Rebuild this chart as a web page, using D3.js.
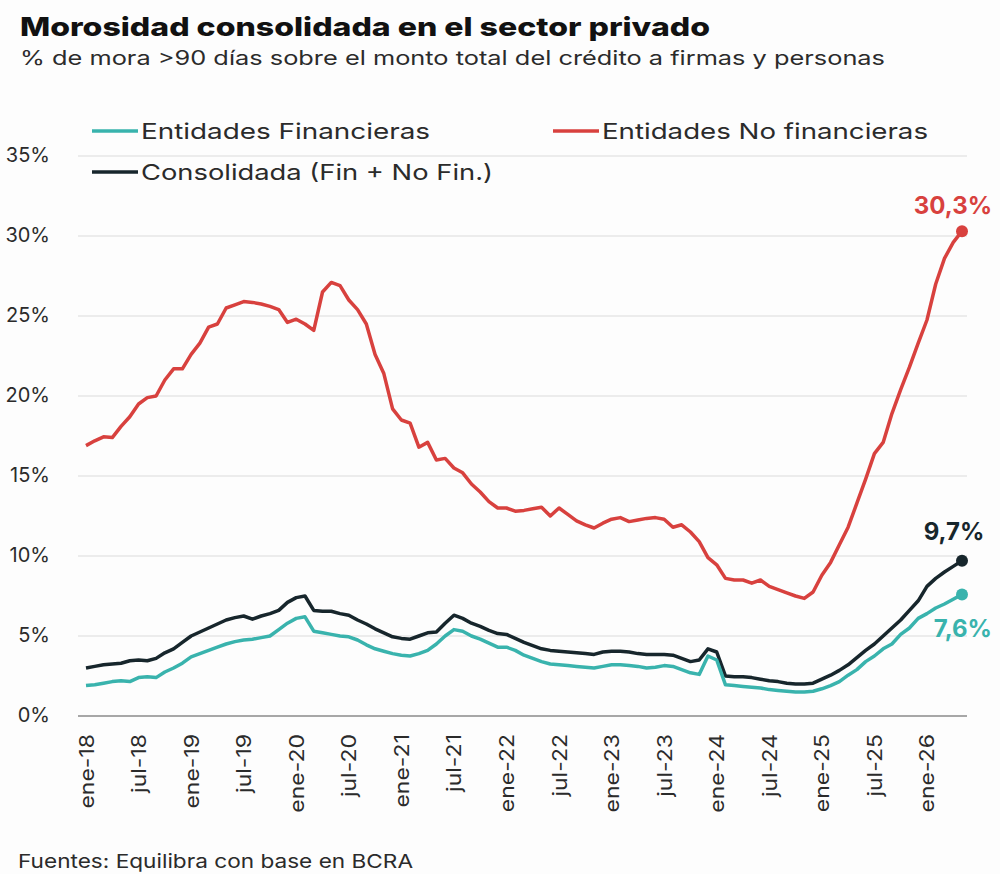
<!DOCTYPE html>
<html>
<head>
<meta charset="utf-8">
<script src="https://cdn.jsdelivr.net/npm/d3@7"></script>
<style>
  body { margin: 0; background: #fdfdfd; }
  svg { display: block; font-family: Inter, "Open Sans", sans-serif; }
</style>
</head>
<body>
<svg id="chart" width="1000" height="874"></svg>
<script>
const monthNames = ['ene', 'feb', 'mar', 'abr', 'may', 'jun', 'jul', 'ago', 'sep', 'oct', 'nov', 'dic'];
const years = ['18', '19', '20', '21', '22', '23', '24', '25', '26'];

// ene-18 .. may-26, one label per month
const months = [];
years.forEach(y => monthNames.forEach(m => months.push(m + '-' + y)));
months.length = 101;

const tickLabels = ['ene-18', 'jul-18', 'ene-19', 'jul-19', 'ene-20', 'jul-20', 'ene-21', 'jul-21',
  'ene-22', 'jul-22', 'ene-23', 'jul-23', 'ene-24', 'jul-24', 'ene-25', 'jul-25', 'ene-26'];

const yTicks = [0, 5, 10, 15, 20, 25, 30, 35];

const noFinancieras = [
  16.9, 17.2, 17.45, 17.4, 18.1, 18.7, 19.5, 19.9, 20.0, 21.0, 21.7, 21.7,
  22.6, 23.3, 24.3, 24.5, 25.5, 25.7, 25.9, 25.85, 25.75, 25.6, 25.4, 24.6,
  24.8, 24.5, 24.1, 26.5, 27.1, 26.9, 26.0, 25.4, 24.5, 22.6, 21.4, 19.2,
  18.5, 18.3, 16.8, 17.1, 16.0, 16.1, 15.5, 15.2, 14.5, 14.0, 13.4, 13.0,
  13.0, 12.8, 12.85, 12.95, 13.05, 12.5, 13.0, 12.6, 12.2, 11.95, 11.75, 12.05,
  12.3, 12.4, 12.15, 12.25, 12.35, 12.4, 12.3, 11.8, 11.95, 11.5, 10.9, 9.9,
  9.45, 8.6, 8.5, 8.5, 8.3, 8.5, 8.1, 7.9, 7.7, 7.5, 7.35, 7.75,
  8.8, 9.6, 10.7, 11.8, 13.3, 14.8, 16.4, 17.1, 18.9, 20.4, 21.8, 23.3,
  24.75, 27.0, 28.6, 29.6, 30.3
];

const financieras = [
  1.9, 1.95, 2.05, 2.15, 2.2, 2.15, 2.4, 2.45, 2.4, 2.75, 3.0, 3.3,
  3.7, 3.9, 4.1, 4.3, 4.5, 4.65, 4.75, 4.8, 4.9, 5.0, 5.4, 5.8,
  6.1, 6.2, 5.3, 5.2, 5.1, 5.0, 4.95, 4.75, 4.45, 4.2, 4.05, 3.9,
  3.8, 3.75, 3.9, 4.1, 4.5, 5.0, 5.4, 5.3, 5.0, 4.8, 4.55, 4.3,
  4.3, 4.1, 3.8, 3.6, 3.4, 3.25, 3.2, 3.15, 3.1, 3.05, 3.0, 3.1,
  3.2, 3.2, 3.15, 3.1, 3.0, 3.05, 3.15, 3.1, 2.9, 2.7, 2.6, 3.75,
  3.5, 1.95, 1.9, 1.85, 1.8, 1.75, 1.65, 1.6, 1.55, 1.5, 1.5, 1.55,
  1.7, 1.9, 2.15, 2.55, 2.9, 3.4, 3.75, 4.2, 4.5, 5.1, 5.5, 6.1,
  6.4, 6.75, 7.0, 7.3, 7.6
];

const consolidada = [
  3.0, 3.1, 3.2, 3.25, 3.3, 3.45, 3.5, 3.45, 3.6, 3.95, 4.2, 4.6,
  5.0, 5.25, 5.5, 5.75, 6.0, 6.15, 6.25, 6.05, 6.25, 6.4, 6.6, 7.1,
  7.4, 7.5, 6.6, 6.55, 6.55, 6.4, 6.3, 6.0, 5.75, 5.45, 5.2, 4.95,
  4.85, 4.8, 5.0, 5.2, 5.25, 5.8, 6.3, 6.1, 5.8, 5.6, 5.35, 5.15,
  5.1, 4.85, 4.6, 4.4, 4.2, 4.1, 4.05, 4.0, 3.95, 3.9, 3.85, 4.0,
  4.05, 4.05, 4.0, 3.9, 3.85, 3.85, 3.85, 3.8, 3.6, 3.4, 3.5, 4.2,
  4.0, 2.5, 2.45, 2.45, 2.4, 2.3, 2.2, 2.15, 2.05, 2.0, 2.0, 2.05,
  2.3, 2.55, 2.85, 3.2, 3.65, 4.1, 4.5, 5.0, 5.5, 6.0, 6.6, 7.2,
  8.1, 8.6, 9.0, 9.35, 9.7
];

const series = [
  { name: 'Entidades No financieras', values: noFinancieras, color: '#d8413e', label: '30,3%' },
  { name: 'Consolidada (Fin + No Fin.)', values: consolidada, color: '#17262c', label: '9,7%' },
  { name: 'Entidades Financieras', values: financieras, color: '#39b3ad', label: '7,6%' }
];

const svg = d3.select('#chart');
const textColor = '#2b2b2b';

const x = d3.scalePoint()
  .domain(months)
  .range([86, 962]);

const y = d3.scaleLinear()
  .domain([0, 35])
  .range([716, 156]);

const plotLeft = 78;
const plotRight = 967;

// title block
svg.append('text')
  .attr('x', 20)
  .attr('y', 36)
  .attr('font-size', 26)
  .attr('font-weight', 800)
  .attr('fill', '#111')
  .attr('textLength', 690)
  .attr('lengthAdjust', 'spacingAndGlyphs')
  .text('Morosidad consolidada en el sector privado');

svg.append('text')
  .attr('x', 20)
  .attr('y', 65)
  .attr('font-size', 19.5)
  .attr('fill', textColor)
  .attr('textLength', 865)
  .attr('lengthAdjust', 'spacingAndGlyphs')
  .text('% de mora >90 días sobre el monto total del crédito a firmas y personas');

// grid
svg.append('g')
  .attr('class', 'grid')
  .selectAll('line')
  .data(yTicks.slice(1))
  .join('line')
    .attr('x1', plotLeft)
    .attr('x2', plotRight)
    .attr('y1', d => y(d))
    .attr('y2', d => y(d))
    .attr('stroke', '#e6e6e6')
    .attr('stroke-width', 1.5);

// y axis labels
const yAxis = svg.append('g')
  .attr('transform', 'translate(50,0)')
  .call(d3.axisLeft(y).tickValues(yTicks).tickSize(0).tickPadding(0).tickFormat(d => d + '%'));
yAxis.select('.domain').remove();
yAxis.selectAll('text')
  .attr('font-size', 20)
  .attr('font-family', 'Inter, "Open Sans", sans-serif')
  .attr('fill', textColor)
  .attr('transform', 'translate(0,-1)');

// x axis
svg.append('line')
  .attr('x1', plotLeft)
  .attr('x2', plotRight)
  .attr('y1', y(0))
  .attr('y2', y(0))
  .attr('stroke', '#8a8a8a')
  .attr('stroke-width', 1.5);

const xAxis = svg.append('g')
  .attr('transform', 'translate(0,' + y(0) + ')')
  .call(d3.axisBottom(x).tickValues(tickLabels).tickSize(0).tickPadding(0));
xAxis.select('.domain').remove();
xAxis.selectAll('text')
  .attr('font-size', 20)
  .attr('font-family', 'Inter, "Open Sans", sans-serif')
  .attr('fill', textColor)
  .attr('text-anchor', 'end')
  .attr('dy', null)
  .attr('transform', 'translate(7,18) rotate(-90) scale(1.15,1)');

// lines
const line = d3.line()
  .x((d, i) => x(months[i]))
  .y(d => y(d));

svg.append('g')
  .selectAll('path')
  .data(series)
  .join('path')
    .attr('d', d => line(d.values))
    .attr('fill', 'none')
    .attr('stroke', d => d.color)
    .attr('stroke-width', 3.5)
    .attr('stroke-linejoin', 'round');

// end dots
const last = months[months.length - 1];
svg.append('g')
  .selectAll('circle')
  .data(series)
  .join('circle')
    .attr('cx', x(last))
    .attr('cy', d => y(d.values[d.values.length - 1]))
    .attr('r', 6)
    .attr('fill', d => d.color);

// end labels
const labelPos = {
  'Entidades No financieras': { dx: -9, dy: -17, anchor: 'middle' },
  'Consolidada (Fin + No Fin.)': { dx: -8, dy: -21, anchor: 'middle' },
  'Entidades Financieras': { dx: 30, dy: 43, anchor: 'end' }
};
svg.append('g')
  .selectAll('text')
  .data(series)
  .join('text')
    .attr('x', d => x(last) + labelPos[d.name].dx)
    .attr('y', d => y(d.values[d.values.length - 1]) + labelPos[d.name].dy)
    .attr('text-anchor', d => labelPos[d.name].anchor)
    .attr('font-size', 24)
    .attr('font-weight', 700)
    .attr('fill', d => d.color)
    .text(d => d.label);

// legend
const legendItems = [
  { s: series[2], x: 92, y: 131, w: 289 },
  { s: series[0], x: 553, y: 131, w: 326 },
  { s: series[1], x: 92, y: 172, w: 352 }
];
const legend = svg.append('g')
  .selectAll('g')
  .data(legendItems)
  .join('g')
    .attr('transform', d => 'translate(' + d.x + ',' + d.y + ')');
legend.append('line')
  .attr('x1', 0)
  .attr('x2', 46)
  .attr('stroke', d => d.s.color)
  .attr('stroke-width', 3.5);
legend.append('text')
  .attr('x', 49)
  .attr('y', 8)
  .attr('font-size', 22)
  .attr('fill', textColor)
  .attr('textLength', d => d.w)
  .attr('lengthAdjust', 'spacingAndGlyphs')
  .text(d => d.s.name);

// source
svg.append('text')
  .attr('x', 18)
  .attr('y', 868)
  .attr('font-size', 19)
  .attr('fill', textColor)
  .attr('textLength', 395)
  .attr('lengthAdjust', 'spacingAndGlyphs')
  .text('Fuentes: Equilibra con base en BCRA');
</script>
</body>
</html>
